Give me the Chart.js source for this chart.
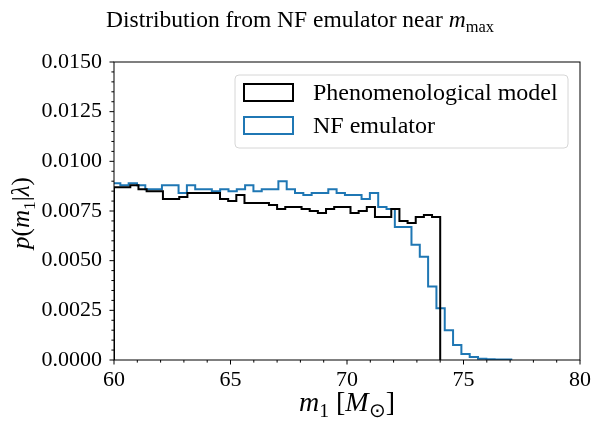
<!DOCTYPE html>
<html>
<head>
<meta charset="utf-8">
<script src="https://cdn.jsdelivr.net/npm/chart.js@4/dist/chart.umd.min.js"></script>
<style>
  html, body { margin: 0; padding: 0; background: #fff; }
  #wrap { width: 595px; height: 422px; }
</style>
</head>
<body>
<div id="wrap"><canvas id="chart" width="595" height="422"></canvas></div>
<script>
// histogram heights
const phenoStart = 60;
const phenoWidth = 0.35;
const phenoHeights = [
  0.0087, 0.0087, 0.0088, 0.0086, 0.0085, 0.0085, 0.0081, 0.0081, 0.0082, 0.0084,
  0.0084, 0.0084, 0.0084, 0.0081, 0.0080, 0.0083, 0.0079, 0.0079, 0.0079, 0.0078,
  0.0076, 0.0077, 0.0077, 0.0076, 0.0075, 0.0074, 0.0076, 0.0077, 0.0077, 0.0074,
  0.0075, 0.0077, 0.0072, 0.0072, 0.0076, 0.0070, 0.0069, 0.0072, 0.0073, 0.0072
];

const nfStart = 59.915;
const nfWidth = 0.357;
const nfHeights = [
  0.0089, 0.0088, 0.0089, 0.0088, 0.0086, 0.0086, 0.0088, 0.0088, 0.0084, 0.0088,
  0.0086, 0.0086, 0.0085, 0.0086, 0.0085, 0.0086, 0.0088, 0.0085, 0.0086, 0.0086,
  0.0090, 0.0086, 0.0084, 0.0083, 0.0084, 0.0084, 0.0086, 0.0084, 0.0083, 0.0083,
  0.0081, 0.0084, 0.0077, 0.0076, 0.0067, 0.0067, 0.0058, 0.0052, 0.0037, 0.0026,
  0.0015, 0.00075, 0.0003, 0.00015, 0.00006, 0.00004, 0.00003, 0.00002
];

const xTicks = [60, 65, 70, 75, 80];
const yTicks = [0, 0.0025, 0.005, 0.0075, 0.01, 0.0125, 0.015];
const seriesLabels = ["Phenomenological model", "NF emulator"];

const SERIF = "'Liberation Serif', 'Times New Roman', serif";

// outline of a step histogram (like histtype="step")
function stepPoints(start, width, heights) {
  const pts = [{ x: start, y: 0 }];
  heights.forEach((h, i) => pts.push({ x: start + i * width, y: h }));
  pts.push({ x: start + heights.length * width, y: 0 });
  return pts;
}

// draws a list of text pieces: {t, it, sub}
function drawRich(ctx, parts, x, y, size, align) {
  const widths = parts.map((p) => {
    const s = p.sub ? size * 0.7 : size;
    ctx.font = (p.it ? "italic " : "") + s + "px " + SERIF;
    return ctx.measureText(p.t).width;
  });
  const total = widths.reduce((a, b) => a + b, 0);
  let cx = align === "center" ? x - total / 2 : x;
  ctx.textBaseline = "alphabetic";
  ctx.textAlign = "left";
  parts.forEach((p, i) => {
    const s = p.sub ? size * 0.7 : size;
    ctx.font = (p.it ? "italic " : "") + s + "px " + SERIF;
    ctx.fillText(p.t, cx, y + (p.sub ? size * 0.22 : 0));
    cx += widths[i];
  });
}

const decorations = {
  id: "decorations",
  afterDraw(chart) {
    const { ctx, chartArea: a, scales } = chart;
    const xs = scales.x, ys = scales.y;
    ctx.save();
    ctx.fillStyle = "#000";
    ctx.strokeStyle = "#000";

    // frame
    ctx.lineWidth = 1;
    ctx.strokeRect(a.left, a.top, a.right - a.left, a.bottom - a.top);

    // outward ticks, bottom and left
    ctx.beginPath();
    for (let v = 60; v <= 80; v += 1) {
      const px = xs.getPixelForValue(v);
      ctx.moveTo(px, a.bottom);
      ctx.lineTo(px, a.bottom + (v % 5 === 0 ? 4.5 : 2.6));
    }
    for (let k = 0; k <= 30; k++) {
      const py = ys.getPixelForValue(k * 0.0005);
      ctx.moveTo(a.left, py);
      ctx.lineTo(a.left - (k % 5 === 0 ? 4.5 : 2.6), py);
    }
    ctx.stroke();

    // title
    drawRich(ctx, [
      { t: "Distribution from NF emulator near " },
      { t: "m", it: true },
      { t: "max", sub: true }
    ], 300, 27, 23.5, "center");

    // x axis title
    drawRich(ctx, [
      { t: "m", it: true }, { t: "1", sub: true },
      { t: " [" }, { t: "M", it: true }, { t: "\u2299", sub: true }, { t: "]" }
    ], (a.left + a.right) / 2, 411, 28, "center");

    // y axis title
    ctx.save();
    ctx.translate(29, (a.top + a.bottom) / 2 + 2);
    ctx.rotate(-Math.PI / 2);
    drawRich(ctx, [
      { t: "p", it: true }, { t: "(" }, { t: "m", it: true }, { t: "1", sub: true },
      { t: "|" }, { t: "\u03bb", it: true }, { t: ")" }
    ], 0, 0, 25, "center");
    ctx.restore();

    // legend
    const lx = 235, ly = 75, lw = 333, lh = 73, r = 4;
    ctx.beginPath();
    ctx.moveTo(lx + r, ly);
    ctx.arcTo(lx + lw, ly, lx + lw, ly + lh, r);
    ctx.arcTo(lx + lw, ly + lh, lx, ly + lh, r);
    ctx.arcTo(lx, ly + lh, lx, ly, r);
    ctx.arcTo(lx, ly, lx + lw, ly, r);
    ctx.closePath();
    ctx.fillStyle = "rgba(255,255,255,0.8)";
    ctx.fill();
    ctx.strokeStyle = "#d6d6d6";
    ctx.lineWidth = 1;
    ctx.stroke();
    chart.data.datasets.forEach((ds, i) => {
      const hy = 84 + i * 33;
      ctx.strokeStyle = ds.borderColor;
      ctx.lineWidth = 2;
      ctx.strokeRect(244, hy, 49, 17);
      ctx.fillStyle = "#000";
      ctx.font = "24px " + SERIF;
      ctx.textAlign = "left";
      ctx.textBaseline = "alphabetic";
      ctx.fillText(ds.label, 313, hy + 16);
    });
    ctx.restore();
  }
};

new Chart(document.getElementById("chart"), {
  type: "line",
  data: {
    datasets: [
      {
        label: seriesLabels[0],
        data: stepPoints(phenoStart, phenoWidth, phenoHeights),
        borderColor: "#000000",
        borderWidth: 2,
        stepped: "before",
        pointRadius: 0,
        fill: false,
        clip: 0
      },
      {
        label: seriesLabels[1],
        data: stepPoints(nfStart, nfWidth, nfHeights),
        borderColor: "#1f77b4",
        borderWidth: 2,
        stepped: "before",
        pointRadius: 0,
        fill: false,
        clip: 0
      }
    ]
  },
  options: {
    responsive: false,
    animation: false,
    layout: { padding: { left: 0, right: 15, top: 62, bottom: 0 } },
    plugins: { legend: { display: false }, tooltip: { enabled: false } },
    scales: {
      x: {
        type: "linear",
        min: 60,
        max: 80,
        afterBuildTicks: (s) => { s.ticks = xTicks.map((v) => ({ value: v })); },
        afterFit: (s) => { s.height = 62; s.paddingLeft = 0; s.paddingRight = 0; },
        grid: { display: false, drawTicks: false },
        border: { display: false },
        ticks: {
          padding: 7,
          color: "#000",
          font: { family: SERIF, size: 22 },
          maxRotation: 0,
          callback: (v) => String(v)
        }
      },
      y: {
        type: "linear",
        min: 0,
        max: 0.015,
        afterBuildTicks: (s) => { s.ticks = yTicks.map((v) => ({ value: v })); },
        afterFit: (s) => { s.width = 114; s.paddingTop = 0; s.paddingBottom = 0; },
        grid: { display: false, drawTicks: false },
        border: { display: false },
        ticks: {
          padding: 12,
          color: "#000",
          font: { family: SERIF, size: 22 },
          callback: (v) => v.toFixed(4)
        }
      }
    }
  },
  plugins: [decorations]
});
</script>
</body>
</html>
